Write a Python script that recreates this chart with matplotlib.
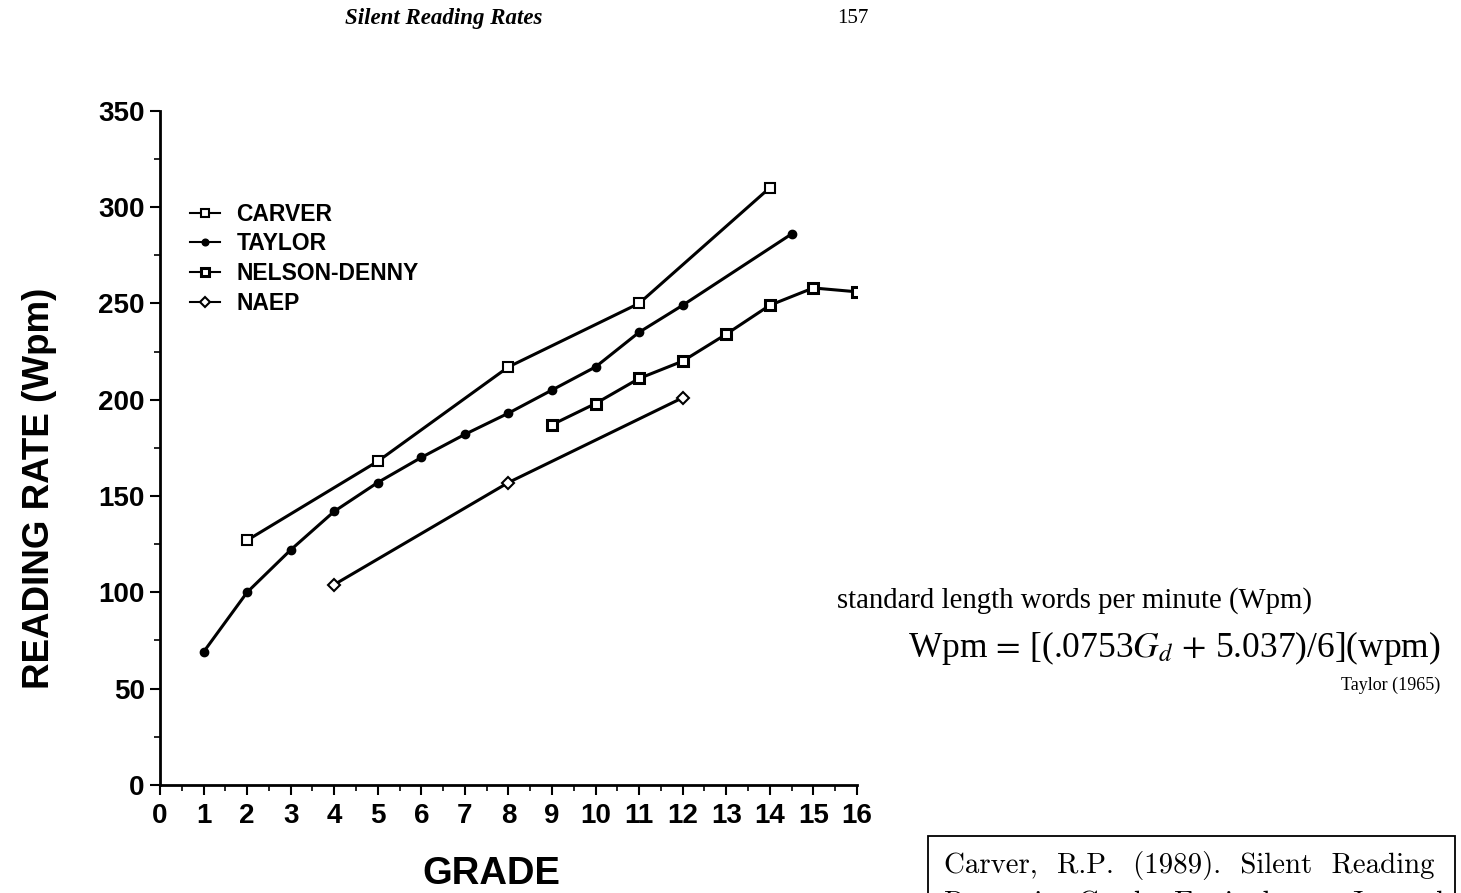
import matplotlib.pyplot as plt
from matplotlib.ticker import MultipleLocator
from matplotlib.patches import Rectangle

plt.rcParams['mathtext.fontset'] = 'stix'

# Datos
carver_x = [2, 5, 8, 11, 14]
carver_y = [127, 168, 217, 250, 310]

taylor_x = [1, 2, 3, 4, 5, 6, 7, 8, 9, 10, 11, 12, 14.5]
taylor_y = [69, 100, 122, 142, 157, 170, 182, 193, 205, 217, 235, 249, 286]

nelson_x = [9, 10, 11, 12, 13, 14, 15, 16]
nelson_y = [187, 198, 211, 220, 234, 249, 258, 256]

naep_x = [4, 8, 12]
naep_y = [104, 157, 201]

grades = list(range(0, 17))

fig = plt.figure(figsize=(14.61, 8.93), dpi=100)
ax = fig.add_axes([0.1095, 0.121, 0.477, 0.755])

lw = 2.2
ax.plot(carver_x, carver_y, color='black', lw=lw, marker='s', ms=7,
        mfc='white', mec='black', mew=1.5, label='CARVER')
ax.plot(taylor_x, taylor_y, color='black', lw=lw, marker='o', ms=6,
        mfc='black', mec='black', label='TAYLOR')
ax.plot(nelson_x, nelson_y, color='black', lw=lw, marker='s', ms=7,
        mfc='white', mec='black', mew=2.2, label='NELSON-DENNY')
ax.plot(naep_x, naep_y, color='black', lw=lw, marker='D', ms=6,
        mfc='white', mec='black', mew=1.5, label='NAEP')

ax.set_xlim(0, 16)
ax.set_ylim(0, 350)
ax.set_xticks(grades)
ax.xaxis.set_minor_locator(MultipleLocator(0.5))
ax.yaxis.set_major_locator(MultipleLocator(50))
ax.yaxis.set_minor_locator(MultipleLocator(25))

for s in ['top', 'right']:
    ax.spines[s].set_visible(False)
for s in ['left', 'bottom']:
    ax.spines[s].set_linewidth(2)

ax.tick_params(axis='both', which='major', direction='out', length=7, width=1.5)
ax.tick_params(axis='both', which='minor', direction='out', length=4, width=1.2)
ax.tick_params(axis='x', pad=6)
ax.tick_params(axis='y', pad=4)

for lab in ax.get_yticklabels():
    lab.set_fontfamily(['Liberation Sans', 'DejaVu Sans'])
    lab.set_fontweight('bold')
    lab.set_fontsize(20)
for lab in ax.get_xticklabels():
    lab.set_fontfamily(['Liberation Sans Narrow', 'Liberation Sans', 'DejaVu Sans'])
    lab.set_fontweight('bold')
    lab.set_fontsize(20)

ax.set_ylabel('READING RATE (Wpm)', fontsize=26.5, fontweight='bold',
              family=['Liberation Sans', 'DejaVu Sans'])
ax.yaxis.set_label_coords(-0.148, 0.44)
ax.set_xlabel('GRADE', fontsize=27.5, fontweight='bold',
              family=['Liberation Sans Narrow', 'Liberation Sans', 'DejaVu Sans'])
ax.xaxis.set_label_coords(0.476, -0.105)

leg = ax.legend(loc='upper left', bbox_to_anchor=(0.0135, 0.894), frameon=False,
                prop={'family': ['Liberation Sans', 'DejaVu Sans'],
                      'weight': 'bold', 'size': 16.5},
                handlelength=1.3, handletextpad=0.72, labelspacing=0.29,
                markerscale=0.8)
for h in leg.legend_handles:
    h.set_linewidth(1.5)

# Textos de la pagina
fig.text(0.236, 0.979, 'Silent Reading Rates', fontsize=16.5, style='italic',
         fontweight='bold', family='Liberation Serif', va='center')
fig.text(0.5835, 0.979, '157', fontsize=15, family='Liberation Serif',
         va='center', ha='center')

fig.text(0.573, 0.327, 'standard length words per minute (Wpm)', fontsize=20.7,
         family='Liberation Serif', va='center')
fig.text(0.986, 0.274, r'Wpm$\,=\,$[(.0753$G_d$$\,+\,$5.037)/6](wpm)',
         fontsize=25.5, family='Liberation Serif', va='center', ha='right')
fig.text(0.986, 0.233, 'Taylor (1965)', fontsize=13, family='Liberation Serif',
         va='center', ha='right')

fig.patches.append(Rectangle((0.635, -0.05), 0.361, 0.114,
                             transform=fig.transFigure, fill=False,
                             ec='black', lw=1.3))
fig.text(0.646, 0.0305, 'Carver,  R.P.  (1989).  Silent  Reading',
         fontsize=20.8, family=['cmr10', 'DejaVu Serif'], va='center')
fig.text(0.646, -0.012, 'Rates  in  Grade  Equivalents.  Journal',
         fontsize=20.8, family=['cmr10', 'DejaVu Serif'], va='center')

fig.savefig('out.png', dpi=100)
